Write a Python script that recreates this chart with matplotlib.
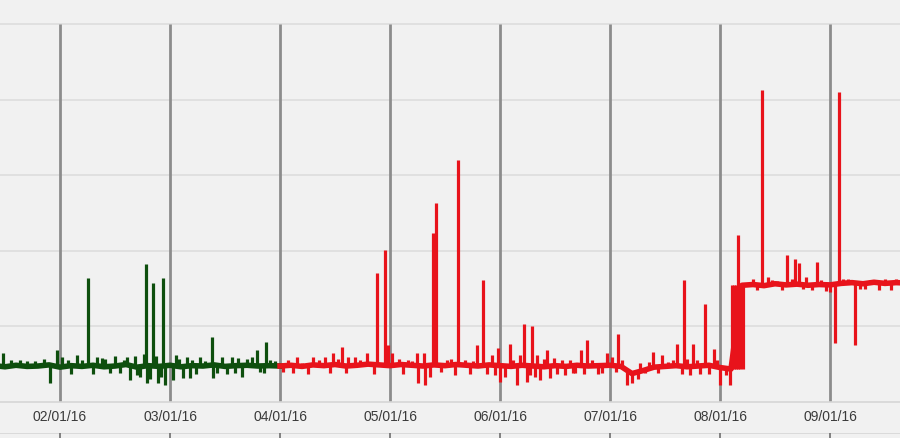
import matplotlib
matplotlib.use("Agg")
import matplotlib.pyplot as plt
import numpy as np

# x is measured in months after 02/01/16 (the chart spaces months evenly)
month_pos = [0, 1, 2, 3, 4, 5, 6, 7]
month_labels = ["02/01/16", "03/01/16", "04/01/16", "05/01/16",
                "06/01/16", "07/01/16", "08/01/16", "09/01/16"]
grid_levels = [20, 40, 60, 80, 100]

# baseline level, sampled every 0.1 month
green_base_t = np.arange(-0.6, 2.001, 0.1)
green_base = [9.5, 9.2, 9.6, 9.3, 9.4, 9.7, 9.1, 9.5, 9.3, 9.6,
              9.2, 9.4, 9.8, 9.1, 9.5, 9.3, 9.6, 9.2, 9.5, 9.4,
              9.7, 9.3, 9.5, 9.6, 9.4, 9.5, 9.4]
red_base_t = np.arange(2.0, 7.701, 0.1)
red_base = [9.4, 9.6, 9.3, 9.7, 9.5, 9.8, 9.4, 9.6, 9.9, 9.7,
            9.5, 9.8, 9.6, 9.4, 9.7, 9.5, 9.8, 9.6, 9.4, 9.7,
            9.5, 9.3, 9.6, 9.4, 9.2, 9.5, 9.3, 9.6, 9.4, 9.5,
            9.6, 9.3, 7.4, 8.2, 9.1, 9.3, 9.5, 9.2, 9.4, 9.6,
            9.0, 8.6, 30.8, 31.0, 30.7, 31.2, 30.9, 31.1, 30.8, 31.0,
            30.9, 31.3, 31.5, 31.2, 31.6, 31.3, 31.5, 31.4]

# short spikes (up or down) off the baseline
green_spike_t = [-0.518, -0.45, -0.364, -0.3, -0.227, -0.15, -0.091, -0.027,
                 0.018, 0.07, 0.1, 0.155, 0.2, 0.255, 0.3, 0.336, 0.38,
                 0.409, 0.45, 0.5, 0.545, 0.58, 0.609, 0.636, 0.68, 0.7,
                 0.727, 0.76, 0.782, 0.791, 0.82, 0.845, 0.87, 0.891, 0.92,
                 0.936, 0.955, 1.027, 1.055, 1.08, 1.118, 1.155, 1.182,
                 1.2, 1.24, 1.273, 1.32, 1.382, 1.391, 1.43, 1.473, 1.52,
                 1.564, 1.591, 1.618, 1.655, 1.7, 1.745, 1.791, 1.818,
                 1.85, 1.873, 1.909, 1.95]
green_spike_v = [12.8, 11.0, 11.0, 10.8, 10.8, 11.2, 4.9, 13.6,
                 11.8, 11.0, 7.2, 12.3, 11.0, 32.7, 7.3, 11.8, 11.4,
                 11.2, 7.5, 12.0, 7.5, 11.0, 11.8, 5.7, 12.0, 7.0,
                 6.5, 12.5, 36.4, 4.9, 6.0, 31.4, 12.0, 4.9, 6.5,
                 32.7, 4.4, 5.7, 12.3, 11.2, 6.2, 11.8, 6.2,
                 11.0, 7.2, 11.8, 10.8, 17.1, 6.2, 7.5, 11.8, 7.3,
                 11.8, 7.5, 11.5, 6.5, 11.2, 11.8, 13.6, 7.8,
                 7.6, 15.8, 11.0, 10.8]

red_spike_t = [2.03, 2.073, 2.12, 2.155, 2.2, 2.25, 2.3, 2.35, 2.409, 2.45,
               2.482, 2.53, 2.564, 2.6, 2.618, 2.682, 2.73, 2.791, 2.85,
               2.882, 2.955, 2.982, 3.018, 3.08, 3.12, 3.164, 3.2, 3.245,
               3.255, 3.309, 3.318, 3.364, 3.391, 3.418, 3.46, 3.518, 3.55,
               3.591, 3.618, 3.68, 3.727, 3.75, 3.791, 3.845, 3.88, 3.927,
               3.95, 3.982, 4.0, 4.045, 4.091, 4.12, 4.155, 4.182, 4.218,
               4.245, 4.27, 4.291, 4.32, 4.336, 4.364, 4.4, 4.427, 4.455,
               4.491, 4.52, 4.56, 4.591, 4.636, 4.66, 4.682, 4.736, 4.76,
               4.791, 4.84, 4.891, 4.93, 4.973, 5.018, 5.05, 5.073, 5.109,
               5.155, 5.2, 5.25, 5.273, 5.318, 5.35, 5.391, 5.44, 5.473,
               5.527, 5.57, 5.609, 5.65, 5.673, 5.7, 5.727, 5.755, 5.79,
               5.818, 5.864, 5.9, 5.945, 5.97, 6.0, 6.05, 6.091,
               6.105, 6.105, 6.125, 6.125, 6.145, 6.145, 6.164, 6.165,
               6.185, 6.185, 6.205,
               6.3, 6.34, 6.382, 6.436, 6.47, 6.518, 6.56, 6.609, 6.65,
               6.682, 6.718, 6.75, 6.782, 6.836, 6.882, 6.92, 6.96, 7.0,
               7.045, 7.082, 7.12, 7.164, 7.227, 7.273, 7.32, 7.364, 7.4,
               7.445, 7.5, 7.55, 7.6]
red_spike_v = [7.8, 11.0, 7.6, 11.8, 10.2, 7.4, 11.8, 11.0, 11.8, 7.6,
               12.8, 11.2, 14.4, 7.5, 11.8, 11.8, 11.0, 12.8, 7.4,
               34.0, 40.1, 15.0, 12.8, 11.2, 7.2, 11.0, 10.8, 12.8,
               4.9, 12.8, 4.4, 6.5, 44.6, 52.6, 7.8, 11.0, 11.2,
               7.0, 64.0, 11.0, 7.2, 10.8, 15.0, 32.2, 7.2, 12.3,
               7.0, 14.2, 5.2, 6.5, 15.2, 11.0, 4.4, 12.3, 20.5,
               5.2, 7.0, 20.0, 6.6, 12.3, 5.6, 11.2, 13.6, 6.1,
               11.5, 7.4, 11.0, 7.0, 11.0, 7.6, 7.5, 13.6, 7.4,
               16.3, 11.0, 7.2, 7.6, 12.8, 11.8, 7.8, 17.9, 11.0,
               4.4, 5.0, 6.0, 10.2, 7.5, 10.6, 13.1, 7.6, 12.3,
               10.4, 11.0, 15.2, 7.2, 32.2, 11.2, 7.0, 15.2, 11.0,
               7.3, 25.8, 7.4, 13.9, 11.0, 4.4, 7.0, 4.4,
               30.8, 8.5, 30.8, 8.5, 30.8, 8.5, 44.1, 8.5,
               30.8, 8.5, 8.5,
               32.5, 29.6, 82.5, 33.0, 32.3, 32.0, 29.5, 38.8, 32.4,
               37.7, 36.7, 29.8, 33.0, 29.5, 37.0, 32.3, 29.4, 29.0,
               15.6, 82.0, 32.4, 32.5, 15.0, 29.8, 29.7, 32.3, 32.3,
               29.6, 32.4, 29.6, 32.4]

green = "#0e4f0e"
red = "#e8131b"
bg = "#f1f1f1"

fig = plt.figure(figsize=(9, 4.38), dpi=100, facecolor=bg)
ax = fig.add_axes([0, 36.5 / 438, 1, 401.5 / 438])
ax.set_facecolor(bg)
ax.set_xlim(-60 / 110, 840 / 110)
ax.set_ylim(0, 106.4)

for g in grid_levels:
    ax.axhline(g, color="#dddddd", lw=1.2, zorder=1)
ax.vlines(month_pos, 0, 100, color="#8c8c8c", lw=2, zorder=2)

ax.plot(green_base_t, green_base, color=green, lw=4.0, zorder=3)
ax.plot(red_base_t, red_base, color=red, lw=4.0, zorder=3)

g_from = np.interp(green_spike_t, green_base_t, green_base)
ax.vlines(green_spike_t, g_from, green_spike_v, color=green, lw=2.3, zorder=3)
r_from = np.interp(red_spike_t, red_base_t, red_base)
ax.vlines(red_spike_t, r_from, red_spike_v, color=red, lw=2.3, zorder=3)

for s in ["top", "left", "right"]:
    ax.spines[s].set_visible(False)
ax.spines["bottom"].set_color("#d6d6d6")
ax.spines["bottom"].set_linewidth(1.2)
ax.set_yticks([])
ax.set_xticks(month_pos)
ax.set_xticklabels(month_labels, fontsize=10, color="#3a3a3a",
                   family=["Liberation Sans", "DejaVu Sans"])
ax.tick_params(axis="x", length=0, pad=6)

# lower strip with the small month ticks
ax2 = fig.add_axes([0, 0, 1, 5.5 / 438], sharex=ax)
ax2.set_facecolor(bg)
ax2.set_ylim(0, 1)
ax2.axhline(1, color="#d6d6d6", lw=1.2)
ax2.vlines(month_pos, 0, 1, color="#6e6e6e", lw=1.2)
ax2.axis("off")

fig.savefig("out.png", dpi=100, facecolor=bg)
